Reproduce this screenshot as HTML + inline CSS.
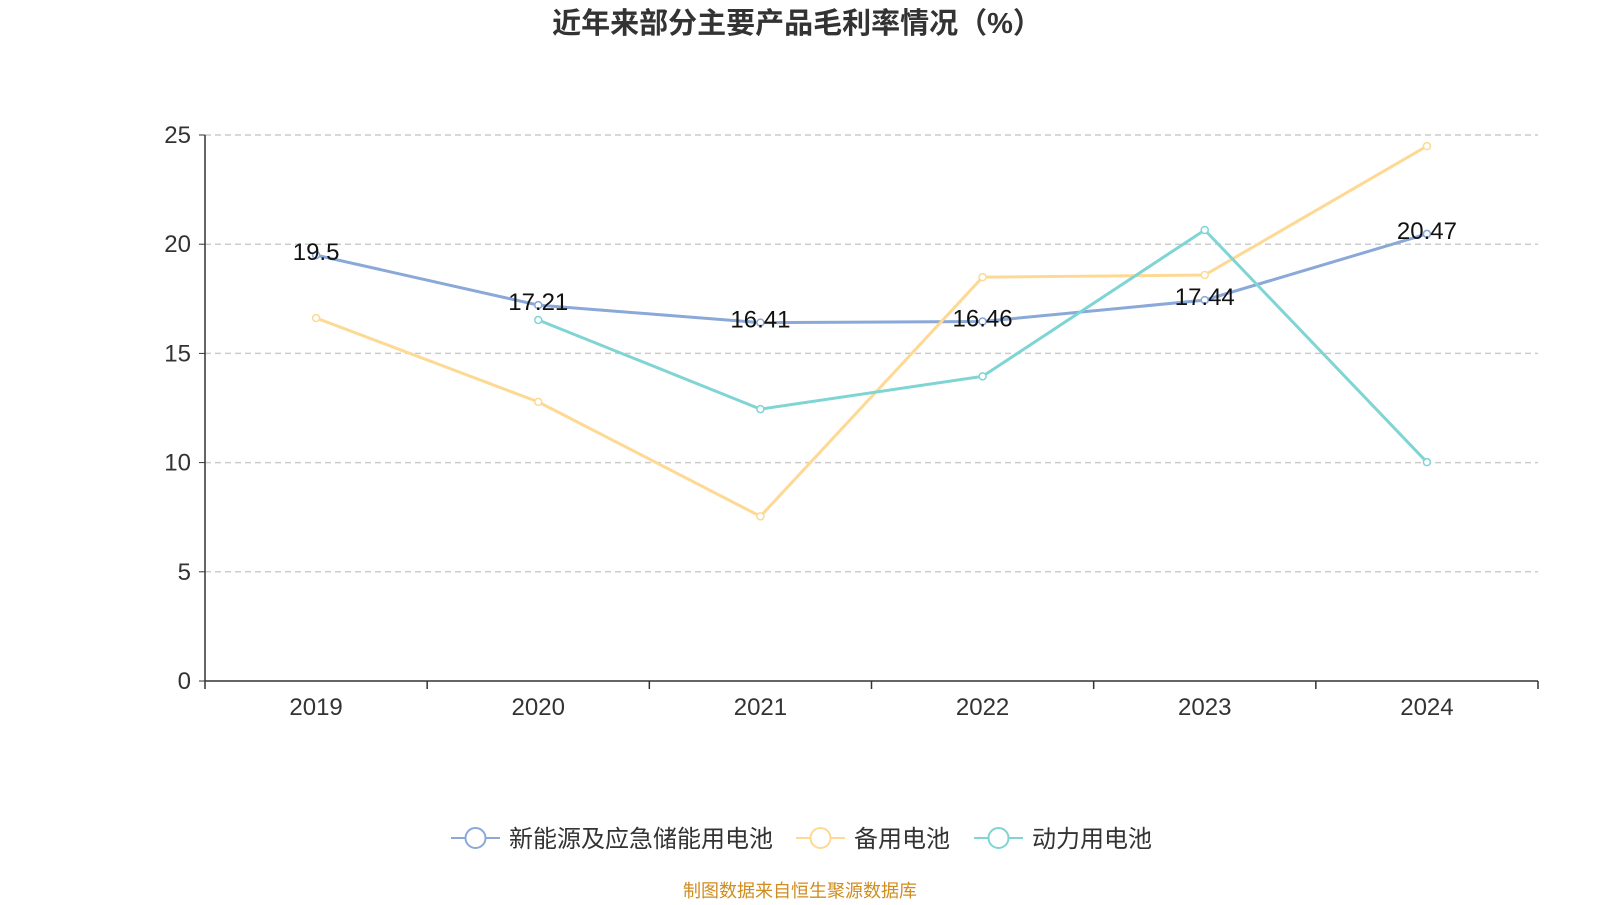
<!DOCTYPE html>
<html><head><meta charset="utf-8">
<style>
body{margin:0;background:#fff;width:1600px;height:900px;overflow:hidden;font-family:"Liberation Sans","Noto Sans CJK SC",sans-serif;}
</style></head>
<body>
<svg id="chart" width="1600" height="900" xmlns="http://www.w3.org/2000/svg" style="font-family:'Liberation Sans','Noto Sans CJK SC',sans-serif">
<text x="797" y="33" text-anchor="middle" font-size="29" font-weight="bold" fill="#333">近年来部分主要产品毛利率情况（%）</text>
<g id="grid"></g><g id="axes"></g><g id="series"></g><g id="legend"></g>
<text x="800" y="897" text-anchor="middle" font-size="18" fill="#d08c1e">制图数据来自恒生聚源数据库</text>
</svg>
<script>
const categories=["2019","2020","2021","2022","2023","2024"];
const seriesNames=["新能源及应急储能用电池","备用电池","动力用电池"];
const seriesNew=[19.5,17.21,16.41,16.46,17.44,20.47];
const seriesBackup=[16.62,12.78,7.54,18.49,18.59,24.49];
const seriesPower=[null,16.53,12.45,13.95,20.65,10.02];
const yTicks=[0,5,10,15,20,25];
const colors=["#8aa8d8","#fdd994","#7fd4d4"];
const NS="http://www.w3.org/2000/svg";
const L=205,R=1538,T=135,B=681;
const xs=i=>L+(R-L)/categories.length*(i+0.5);
const ys=v=>B-(v/25)*(B-T);
function mk(tag,attrs,parent){const e=document.createElementNS(NS,tag);for(const k in attrs)e.setAttribute(k,attrs[k]);parent.appendChild(e);return e;}
const grid=document.getElementById('grid'),axes=document.getElementById('axes'),ser=document.getElementById('series'),leg=document.getElementById('legend');
yTicks.forEach(t=>{
 if(t>0){const g=mk('line',{x1:L,x2:R,y1:ys(t),y2:ys(t),stroke:'#ccc','stroke-dasharray':'6,4','stroke-width':1.5},grid);
 
 }
 const tk=mk('line',{x1:L-6,x2:L,y1:ys(t),y2:ys(t),stroke:'#333'},axes);
 
 
 const tx=mk('text',{x:L-14,y:ys(t)+8,'text-anchor':'end','font-size':24,fill:'#333'},axes);tx.textContent=t;
 
 
});
const ya=mk('line',{x1:L,x2:L,y1:T,y2:B,stroke:'#333','stroke-width':1.5},axes);


const xa=mk('line',{x1:L,x2:R,y1:B,y2:B,stroke:'#333','stroke-width':1.5},axes);


for(let i=0;i<=categories.length;i++){const x=L+(R-L)/categories.length*i;
 const tk=mk('line',{x1:x,x2:x,y1:B,y2:B+8,stroke:'#333','stroke-width':1.5},axes);
 
 }
categories.forEach((c,i)=>{const tx=mk('text',{x:xs(i),y:715,'text-anchor':'middle','font-size':24,fill:'#333'},axes);tx.textContent=c;
 
 });
[seriesNew,seriesBackup,seriesPower].forEach((data,s)=>{
 const pts=[];data.forEach((v,i)=>{if(v!=null)pts.push([xs(i),ys(v)]);});
 const p=mk('polyline',{points:pts.map(p=>p.join(',')).join(' '),fill:'none',stroke:colors[s],'stroke-width':3},ser);
 
 
});
[seriesNew,seriesBackup,seriesPower].forEach((data,s)=>{
 data.forEach((v,i)=>{if(v==null)return;
  const c=mk('circle',{cx:xs(i),cy:ys(v),r:3.5,fill:'#fff',stroke:colors[s],'stroke-width':1.5},ser);
  
  
 });
});
seriesNew.forEach((v,i)=>{const tx=mk('text',{x:xs(i),y:ys(v)+5,'text-anchor':'middle','font-size':24,fill:'#111'},ser);tx.textContent=v;
 
 });
const lx=[451,796,974];
seriesNames.forEach((n,s)=>{
 const g=mk('g',{},leg);
 
 
 mk('line',{x1:lx[s],x2:lx[s]+49,y1:838,y2:838,stroke:colors[s],'stroke-width':2},g);
 mk('circle',{cx:lx[s]+24.5,cy:838,r:10,fill:'#fff',stroke:colors[s],'stroke-width':2},g);
 const t=mk('text',{x:lx[s]+58,y:847,'font-size':24,fill:'#333'},g);t.textContent=n;
});
</script>
</body></html>
